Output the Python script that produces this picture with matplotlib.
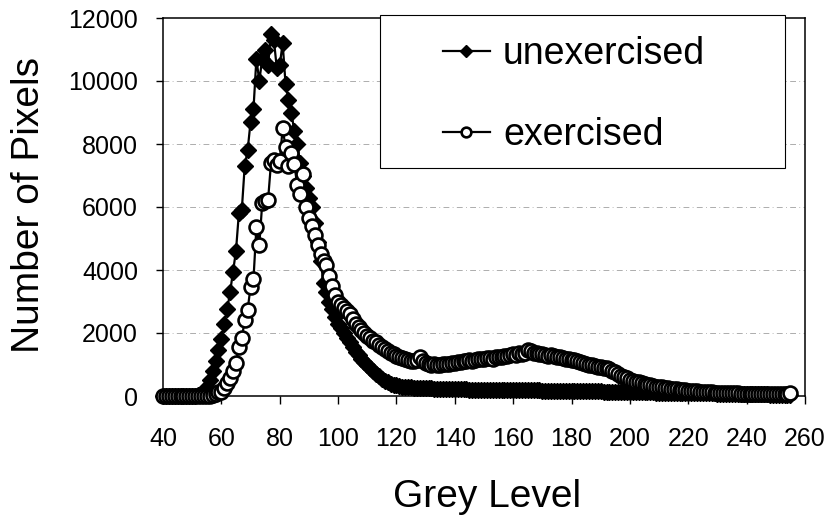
import matplotlib
matplotlib.use('Agg')
import matplotlib.pyplot as plt
from matplotlib.patches import Rectangle

# Grey levels 40..255, one histogram bin each.
grey_level = list(range(40, 256))

# Pixel counts (rows of ten grey levels, starting at 40).
unexercised = [
    0, 0, 0, 0, 0, 0, 0, 0, 0, 0,
    0, 10, 20, 60, 150, 300, 500, 800, 1100, 1450,
    1800, 2300, 2750, 3300, 3950, 4600, 5800, 5900, 7300, 7800,
    8700, 9100, 10700, 10000, 10700, 11000, 10500, 11500, 11300, 10400,
    10500, 11200, 9900, 9400, 9000, 8400, 8000, 7400, 7000, 6600,
    6300, 6000, 5500, 4900, 4300, 3600, 3300, 3000, 2750, 2500,
    2300, 2150, 2000, 1850, 1700, 1550, 1400, 1300, 1180, 1080,
    980, 880, 790, 700, 620, 550, 480, 430, 390, 360,
    340, 320, 300, 290, 280, 270, 265, 260, 255, 250,
    245, 240, 240, 235, 230, 230, 225, 225, 220, 220,
    215, 215, 210, 210, 210, 205, 205, 200, 200, 200,
    200, 195, 195, 195, 190, 190, 190, 190, 185, 185,
    185, 185, 180, 180, 180, 180, 175, 175, 175, 175,
    170, 170, 170, 170, 165, 165, 165, 165, 160, 160,
    160, 160, 155, 155, 155, 150, 150, 150, 145, 145,
    145, 140, 140, 140, 135, 135, 135, 130, 130, 130,
    125, 125, 125, 120, 120, 120, 115, 115, 115, 110,
    110, 110, 105, 105, 105, 100, 100, 100, 95, 95,
    95, 90, 90, 90, 85, 85, 85, 80, 80, 80,
    75, 75, 75, 70, 70, 70, 65, 65, 65, 60,
    60, 60, 55, 55, 55, 50, 50, 50, 45, 45,
    45, 40, 40, 40, 35, 35,
]

exercised = [
    0, 0, 0, 0, 0, 0, 0, 0, 0, 0,
    0, 0, 0, 0, 0, 0, 10, 30, 70, 140,
    120, 240, 400, 560, 800, 1040, 1570, 1830, 2410, 2730,
    3470, 3700, 5350, 4790, 6120, 6200, 6220, 7390, 7500, 7330,
    7450, 8500, 7900, 7300, 7700, 7350, 6700, 6400, 7050, 6000,
    5650, 5400, 5100, 4800, 4500, 4300, 4150, 3800, 3500, 3200,
    3000, 2900, 2800, 2700, 2600, 2450, 2300, 2200, 2100, 2000,
    1900, 1850, 1750, 1700, 1620, 1560, 1500, 1440, 1380, 1330,
    1280, 1240, 1200, 1170, 1140, 1120, 1100, 1150, 1250, 1100,
    1050, 1020, 1000, 1010, 990, 1000, 1020, 1030, 1010, 1050,
    1060, 1080, 1070, 1100, 1110, 1130, 1120, 1150, 1170, 1160,
    1180, 1200, 1210, 1190, 1230, 1250, 1240, 1260, 1280, 1300,
    1330, 1310, 1350, 1340, 1380, 1460, 1420, 1380, 1360, 1340,
    1320, 1300, 1280, 1290, 1260, 1230, 1240, 1200, 1190, 1170,
    1150, 1140, 1100, 1080, 1060, 1030, 1000, 980, 950, 930,
    910, 890, 880, 860, 800, 750, 700, 650, 600, 560,
    520, 490, 460, 430, 400, 380, 360, 340, 320, 300,
    285, 270, 255, 240, 230, 220, 210, 200, 190, 180,
    170, 160, 150, 145, 140, 130, 125, 120, 115, 110,
    105, 100, 95, 90, 88, 85, 82, 80, 78, 76,
    75, 74, 72, 70, 70, 68, 68, 66, 66, 65,
    65, 64, 64, 62, 62, 80,
]

x_ticks = [40, 60, 80, 100, 120, 140, 160, 180, 200, 220, 240, 260]
y_ticks = [0, 2000, 4000, 6000, 8000, 10000, 12000]

plt.rcParams['font.family'] = ['Liberation Sans', 'DejaVu Sans']

fig = plt.figure(figsize=(8.3, 5.25), dpi=100)
ax = fig.add_axes([163 / 830, 1 - 396 / 525, 642 / 830, 378 / 525])

# Faint dash-dot gridlines (not on the top border).
for v in y_ticks[1:-1]:
    ax.axhline(v, color='#a0a0a0', lw=0.6, ls=(0, (7, 4, 1, 4)), zorder=1)

ax.plot(grey_level, unexercised, '-D', color='black', lw=1.6, ms=8.5,
        mew=1, clip_on=False, zorder=3, label='unexercised')
ax.plot(grey_level, exercised, '-o', color='black', mfc='white', mec='black',
        lw=1.6, ms=10, mew=1.9, clip_on=False, zorder=4, label='exercised')

ax.set_xlim(40, 260)
ax.set_ylim(0, 12000)
ax.set_xticks(x_ticks)
ax.set_yticks(y_ticks)
ax.tick_params(axis='x', direction='out', length=6, width=1, pad=16, labelsize=18)
ax.tick_params(axis='y', direction='out', length=5, width=1, pad=13, labelsize=18)
for s in ax.spines.values():
    s.set_linewidth(1.1)

fig.text(29 / 830, 1 - 205 / 525, 'Number of Pixels', rotation=90,
         ha='center', va='center', fontsize=28)
fig.text(487 / 830, 1 - 497 / 525, 'Grey Level', ha='center', va='center',
         fontsize=28)

# Legend box drawn by hand so its size matches the original.
box = Rectangle((0.338, 0.603), 0.631, 0.405, transform=ax.transAxes,
                facecolor='white', edgecolor='black', lw=0.8,
                clip_on=False, zorder=5)
ax.add_patch(box)
leg = ax.legend(loc='upper left', bbox_to_anchor=(0.436, 0.952),
                frameon=False, fontsize=27, handlelength=1.25,
                handletextpad=0.35, labelspacing=1.2, borderpad=0,
                borderaxespad=0, markerscale=0.7)
leg.set_zorder(6)

fig.savefig('out.png', dpi=100)
